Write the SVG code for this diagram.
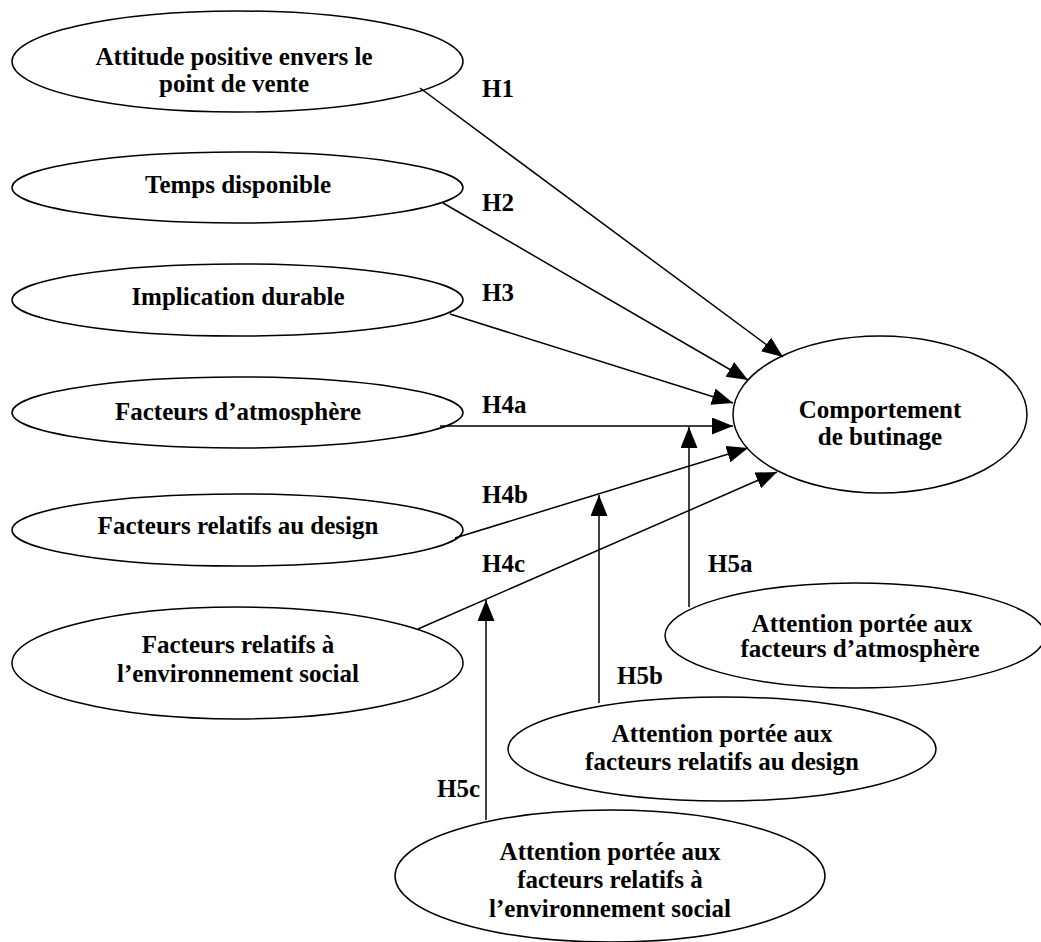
<svg xmlns="http://www.w3.org/2000/svg" width="1041" height="942" viewBox="0 0 1041 942">
<style>
.n ellipse{fill:#fff;stroke:#000;stroke-width:1.5}
text{font-family:"Liberation Serif","Times New Roman",serif;font-weight:bold;font-size:25px;fill:#000}
.c{text-anchor:middle}
.e line{stroke:#000;stroke-width:1.5;marker-end:url(#ah)}
</style>
<defs>
<marker id="ah" markerUnits="userSpaceOnUse" markerWidth="23" markerHeight="19" refX="21" refY="8.5" orient="auto">
<path d="M0,0 L21,8.5 L0,17 z" fill="#000"/>
</marker>
</defs>
<rect width="1041" height="942" fill="#fff"/>
<g id="n1" class="n"><ellipse cx="237.5" cy="61.5" rx="225.5" ry="50.5"/><text class="c" x="234" y="65">Attitude positive envers le</text><text class="c" x="234" y="92">point de vente</text></g>
<g id="n2" class="n"><ellipse cx="237.5" cy="187.5" rx="225.5" ry="35.5"/><text class="c" x="238" y="193">Temps disponible</text></g>
<g id="n3" class="n"><ellipse cx="237.5" cy="300" rx="225.5" ry="36"/><text class="c" x="238" y="305">Implication durable</text></g>
<g id="n4" class="n"><ellipse cx="237.5" cy="412.5" rx="225.5" ry="35.5"/><text class="c" x="238" y="420">Facteurs d’atmosphère</text></g>
<g id="n5" class="n"><ellipse cx="237.5" cy="530" rx="225.5" ry="36"/><text class="c" x="238" y="534">Facteurs relatifs au design</text></g>
<g id="n6" class="n"><ellipse cx="237.5" cy="663" rx="225.5" ry="56"/><text class="c" x="238" y="653">Facteurs relatifs à</text><text class="c" x="238" y="682">l’environnement social</text></g>
<g id="n7" class="n"><ellipse cx="880" cy="414.5" rx="147" ry="78.5"/><text class="c" x="880" y="418">Comportement</text><text class="c" x="880" y="445">de butinage</text></g>
<g id="n8" class="n"><ellipse cx="855" cy="635.5" rx="190" ry="52.5"/><text class="c" x="862" y="632">Attention portée aux</text><text class="c" x="860" y="657">facteurs d’atmosphère</text></g>
<g id="n9" class="n"><ellipse cx="722" cy="749" rx="214" ry="52"/><text class="c" x="722" y="742">Attention portée aux</text><text class="c" x="722" y="770">facteurs relatifs au design</text></g>
<g id="n10" class="n"><ellipse cx="610" cy="876" rx="215" ry="66"/><text class="c" x="610" y="860">Attention portée aux</text><text class="c" x="610" y="888">facteurs relatifs à</text><text class="c" x="610" y="917">l’environnement social</text></g>
<g id="edges" class="e">
<line x1="420" y1="88" x2="783" y2="357"/>
<line x1="443" y1="203" x2="748" y2="380"/>
<line x1="450" y1="314" x2="733" y2="403"/>
<line x1="440" y1="426" x2="733" y2="426"/>
<line x1="455" y1="538" x2="748" y2="448"/>
<line x1="418" y1="629" x2="777" y2="472"/>
<line x1="689" y1="607" x2="689" y2="427"/>
<line x1="599" y1="703" x2="599" y2="495"/>
<line x1="486" y1="820" x2="486" y2="600"/>
</g>
<g id="labels">
<text x="482" y="97">H1</text>
<text x="482" y="211">H2</text>
<text x="482" y="301">H3</text>
<text x="482" y="413">H4a</text>
<text x="482" y="503">H4b</text>
<text x="482" y="572">H4c</text>
<text x="708" y="572">H5a</text>
<text x="617" y="684">H5b</text>
<text x="437" y="797">H5c</text>
</g>
</svg>
